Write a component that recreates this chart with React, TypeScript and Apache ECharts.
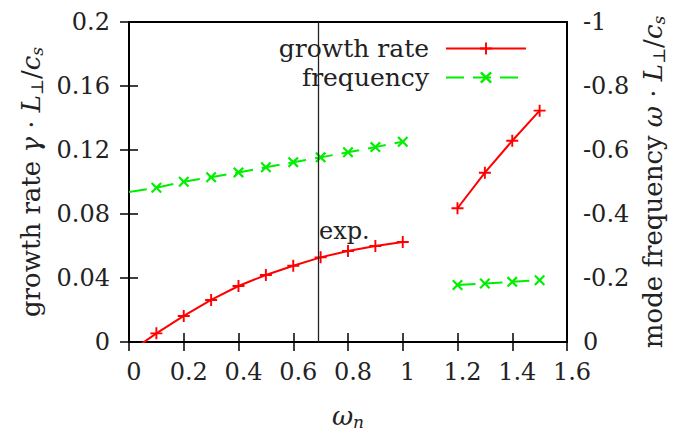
import React, { useEffect, useRef } from "react";
import * as echarts from "echarts";

const rateX1 = [0, 0.1, 0.2, 0.3, 0.4, 0.5, 0.6, 0.7, 0.8, 0.9, 1.0];
const rate1 = [-0.0066, 0.0054, 0.0163, 0.0263, 0.035, 0.0419, 0.0477, 0.0529, 0.0569, 0.06, 0.0625];
const rateX2 = [1.2, 1.3, 1.4, 1.5];
const rate2 = [0.0836, 0.1058, 0.1258, 0.1446];

const freqX1 = [0, 0.1, 0.2, 0.3, 0.4, 0.5, 0.6, 0.7, 0.8, 0.9, 1.0];
const freq1 = [-0.469, -0.482, -0.501, -0.515, -0.53, -0.546, -0.562, -0.577, -0.593, -0.609, -0.626];
const freqX2 = [1.2, 1.3, 1.4, 1.5];
const freq2 = [-0.178, -0.183, -0.188, -0.193];

const expX = 0.69;
const expLabel = "exp.";

const FONT = "DejaVu Serif";
const FS = 24;
const NFS = 26;
const TXT = "#222";

const PLUS = "path://M4.2,0H5.8V4.2H10V5.8H5.8V10H4.2V5.8H0V4.2H4.2Z";
const CROSS =
  "path://M0,1.4L1.4,0L5,3.6L8.6,0L10,1.4L6.4,5L10,8.6L8.6,10L5,6.4L1.4,10L0,8.6L3.6,5Z";

function build(xs1: number[], ys1: number[], xs2: number[], ys2: number[]) {
  const out: any[] = [];
  xs1.forEach((x, i) => {
    if (x === 0) out.push({ value: [x, ys1[i]], symbol: "none" });
    else out.push([x, ys1[i]]);
  });
  out.push([1.1, "-"]);
  xs2.forEach((x, i) => out.push([x, ys2[i]]));
  return out;
}

const rich = {
  t: { fontFamily: FONT, fontSize: NFS, color: TXT },
  i: { fontFamily: FONT, fontSize: NFS, fontStyle: "italic", color: TXT },
  s: { fontFamily: FONT, fontSize: 17, fontStyle: "italic", color: TXT, padding: [11, 0, 0, 0] },
  u: { fontFamily: FONT, fontSize: 17, color: TXT, padding: [11, 0, 0, 0] },
};

export default function App() {
  const ref = useRef<HTMLDivElement>(null);
  useEffect(() => {
    const chart = echarts.init(ref.current!, undefined, { renderer: "svg" });
    const tickStyle = { show: true, inside: true, length: 9, lineStyle: { color: "#000", width: 1.5 } };
    const labelStyle = { fontFamily: FONT, fontSize: FS, color: TXT };
    chart.setOption({
      animation: false,
      grid: {
        left: 129,
        right: 112,
        top: 22,
        bottom: 90,
        outerBoundsMode: "none",
        containLabel: false,
        show: true,
        borderColor: "#000",
        borderWidth: 2,
        backgroundColor: "transparent",
      },
      legend: [
        {
          data: ["growth rate"],
          right: 147,
          top: 31,
          align: "right",
          itemWidth: 80,
          itemHeight: 15,
          textStyle: { ...labelStyle, fontSize: 25, padding: [0, 12, 0, 0] },
        },
        {
          data: ["frequency"],
          right: 147,
          top: 60,
          align: "right",
          itemWidth: 80,
          itemHeight: 15,
          textStyle: { ...labelStyle, fontSize: 25, padding: [0, 12, 0, 0] },
        },
      ],
      xAxis: [
        {
          type: "value",
          min: 0,
          max: 1.6,
          interval: 0.2,
          axisLine: { show: false },
          axisTick: tickStyle,
          splitLine: { show: false },
          axisLabel: { ...labelStyle, margin: 18, padding: [0, 0, 0, 10] },
          name: "{i|ω}{s|n}",
          nameLocation: "middle",
          nameGap: 60,
          nameTextStyle: { rich },
        },
        {
          type: "value",
          position: "top",
          min: 0,
          max: 1.6,
          interval: 0.2,
          axisLine: { show: false },
          axisTick: tickStyle,
          splitLine: { show: false },
          axisLabel: { show: false },
        },
      ],
      yAxis: [
        {
          type: "value",
          min: 0,
          max: 0.2,
          interval: 0.04,
          axisLine: { show: false },
          axisTick: tickStyle,
          splitLine: { show: false },
          axisLabel: { ...labelStyle, margin: 19 },
          name: "{t|growth rate }{i|γ}{t| · }{i|L}{u|⊥}{t|/}{i|c}{s|s}",
          nameLocation: "middle",
          nameRotate: 90,
          nameGap: 84,
          nameTextStyle: { rich },
        },
        {
          type: "value",
          position: "right",
          min: -1,
          max: 0,
          interval: 0.2,
          inverse: true,
          axisLine: { show: false },
          axisTick: tickStyle,
          splitLine: { show: false },
          axisLabel: { ...labelStyle, margin: 16 },
          name: "{t|mode frequency }{i|ω}{t| · }{i|L}{u|⊥}{t|/}{i|c}{s|s}",
          nameLocation: "middle",
          nameRotate: 90,
          nameGap: 72,
          nameTextStyle: { rich },
        },
      ],
      series: [
        {
          name: "growth rate",
          type: "line",
          xAxisIndex: 0,
          yAxisIndex: 0,
          data: build(rateX1, rate1, rateX2, rate2),
          connectNulls: false,
          clip: true,
          symbol: PLUS,
          symbolSize: 12,
          itemStyle: { color: "#ff0000" },
          lineStyle: { color: "#ff0000", width: 2 },
          markLine: {
            silent: true,
            symbol: "none",
            label: { show: false },
            lineStyle: { color: "#222", width: 1.3, type: "solid" },
            data: [{ xAxis: expX }],
          },
        },
        {
          name: "frequency",
          type: "line",
          xAxisIndex: 0,
          yAxisIndex: 1,
          data: build(freqX1, freq1, freqX2, freq2),
          connectNulls: false,
          clip: true,
          symbol: CROSS,
          symbolSize: 11,
          itemStyle: { color: "#00ee00" },
          lineStyle: { color: "#00ee00", width: 2, type: [18, 9] },
        },
      ],
      graphic: [
        {
          type: "text",
          x: 319,
          y: 231,
          style: {
            text: expLabel,
            fontFamily: FONT,
            fontSize: FS,
            fill: TXT,
            verticalAlign: "middle",
            align: "left",
          },
        },
      ],
    });
    return () => chart.dispose();
  }, []);
  return <div ref={ref} style={{ width: 679, height: 432, position: "absolute", left: 0, top: 0 }} />;
}
